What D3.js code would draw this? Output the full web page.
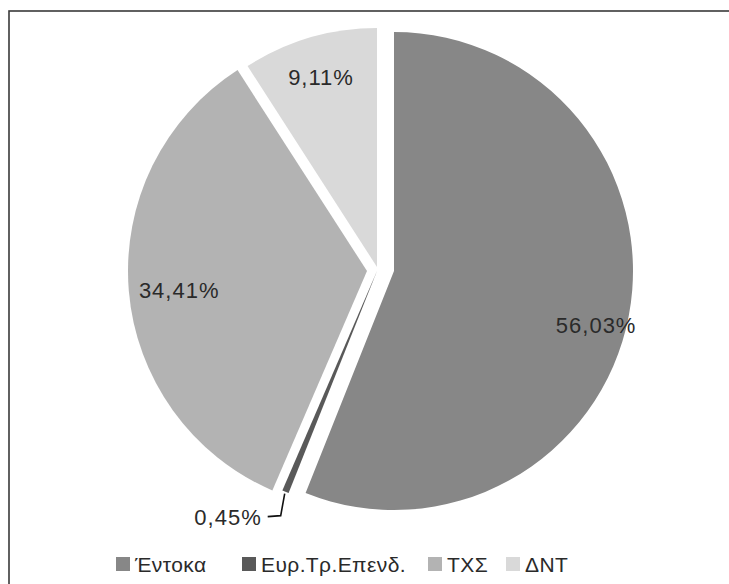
<!DOCTYPE html>
<html><head><meta charset="utf-8">
<script src="https://cdn.jsdelivr.net/npm/d3@7"></script>
<style>
html,body{margin:0;padding:0;background:#fff;}
svg{display:block;}
text{font-family:"Liberation Sans",Arial,sans-serif;font-weight:400;fill:#2a2a2a;}
</style></head>
<body>
<svg id="chart" width="729" height="584"></svg>
<script>
// Data
const categories = ["Έντοκα", "Ευρ.Τρ.Επενδ.", "ΤΧΣ", "ΔΝΤ"];
const values = [56.03, 0.45, 34.41, 9.11];
const labels = ["56,03%", "0,45%", "34,41%", "9,11%"];

// Styling / layout
const colors = ["#878787", "#595959", "#b3b3b3", "#d9d9d9"];
const center = {x: 380, y: 270};
const radius = 239;
// per-slice explosion offsets (px)
const explodeDx = [14, -3, -13, -3];
const explodeDy = [1, 1, 1, -3];
// label placement (fraction of radius, angle nudge in radians)
const labelR = [0.875, null, 0.79, 0.83];
const labelNudge = [0.07, 0, -0.02, 0];

const svg = d3.select("#chart");
svg.append("rect").attr("x", 0).attr("y", 0).attr("width", 729).attr("height", 584).attr("fill", "#fff");
svg.append("rect").attr("x", 9).attr("y", 11).attr("width", 740).attr("height", 620)
  .attr("fill", "none").attr("stroke", "#3a3a3a").attr("stroke-width", 1.6);

const pie = d3.pie().sort(null).value(d => d)(values);
const arc = d3.arc().innerRadius(0).outerRadius(radius);

const g = svg.append("g");
pie.forEach((p, i) => {
  const cx = center.x + explodeDx[i], cy = center.y + explodeDy[i];
  const sg = g.append("g").attr("transform", `translate(${cx},${cy})`);
  sg.append("path").attr("d", arc(p)).attr("fill", colors[i]);
  if (labelR[i] !== null) {
    const a = (p.startAngle + p.endAngle) / 2 + labelNudge[i];
    const r = radius * labelR[i];
    sg.append("text")
      .attr("x", Math.sin(a) * r).attr("y", -Math.cos(a) * r)
      .attr("dy", "0.36em").attr("text-anchor", "middle")
      .attr("font-size", 22).attr("letter-spacing", 1).text(labels[i]);
  } else {
    // small slice: leader line to outside label
    const a = (p.startAngle + p.endAngle) / 2;
    const x0 = Math.sin(a) * (radius + 2), y0 = -Math.cos(a) * (radius + 2);
    const x1 = x0 - 4, y1 = y0 + 22;
    const x2 = x1 - 13;
    sg.append("path").attr("d", `M${x0},${y0}L${x1},${y1}L${x2},${y1 + 1}`)
      .attr("fill", "none").attr("stroke", "#111").attr("stroke-width", 1.6);
    sg.append("text").attr("x", x2 - 6).attr("y", y1 + 1).attr("dy", "0.36em")
      .attr("text-anchor", "end").attr("font-size", 22).attr("letter-spacing", 1).text(labels[i]);
  }
});

// Legend
const legendX = [116, 242, 428, 506];
const leg = svg.append("g").attr("transform", "translate(0,557)");
categories.forEach((c, i) => {
  leg.append("rect").attr("x", legendX[i]).attr("y", 0).attr("width", 14).attr("height", 14).attr("fill", colors[i]);
  leg.append("text").attr("x", legendX[i] + 19).attr("y", 14.5).attr("font-size", 21)
    .attr("letter-spacing", 0.4).text(c);
});
</script>
</body></html>
